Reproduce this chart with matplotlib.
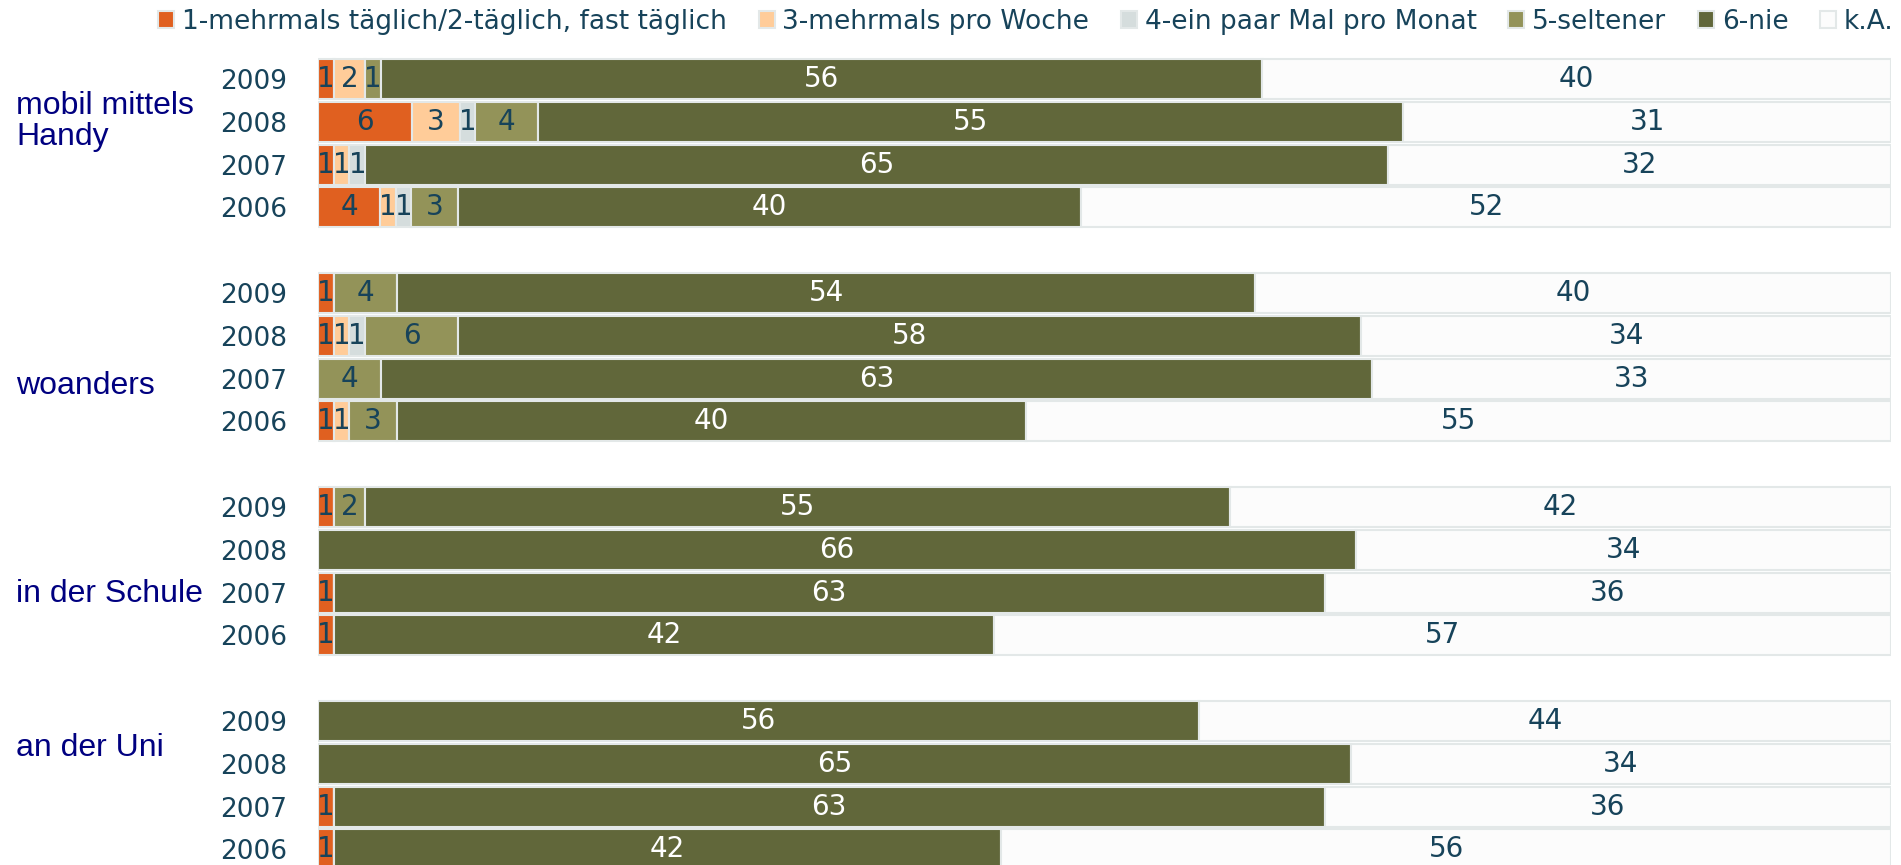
import numpy as np
import matplotlib.pyplot as plt

# categories / labels
cats = ['1-mehrmals täglich/2-täglich, fast täglich', '3-mehrmals pro Woche',
        '4-ein paar Mal pro Monat', '5-seltener', '6-nie', 'k.A.']
years = ['2009', '2008', '2007', '2006']
groups = ['mobil mittels\nHandy', 'woanders', 'in der Schule', 'an der Uni']

# values per category, order: group (mobil, woanders, Schule, Uni) x year (2009..2006)
taeglich = [1, 6, 1, 4,   1, 1, 0, 1,   1, 0, 1, 1,   0, 0, 1, 1]
woche    = [2, 3, 1, 1,   0, 1, 0, 1,   0, 0, 0, 0,   0, 0, 0, 0]
monat    = [0, 1, 1, 1,   0, 1, 0, 0,   0, 0, 0, 0,   0, 0, 0, 0]
seltener = [1, 4, 0, 3,   4, 6, 4, 3,   2, 0, 0, 0,   0, 0, 0, 0]
nie      = [56, 55, 65, 40,   54, 58, 63, 40,   55, 66, 63, 42,   56, 65, 63, 42]
ka       = [40, 31, 32, 52,   40, 34, 33, 55,   42, 34, 36, 57,   44, 34, 36, 56]

series = [taeglich, woche, monat, seltener, nie, ka]
colors = ['#E06020', '#FFCC99', '#D5DDDD', '#939359', '#61673A', '#FCFCFC']
teal = '#17435A'
txt_col = [teal, teal, teal, teal, 'white', teal]

plt.rcParams['font.family'] = ['DejaVu Sans']

fig = plt.figure(figsize=(19.01, 8.65), dpi=100)
W, H = 1901, 865
x0, x1 = 318, 1891
ytop = 52
row0, step = 79, 42.8
ax = fig.add_axes([x0 / W, 0, (x1 - x0) / W, (H - ytop) / H])

# row positions: 4 rows per group + one empty row between groups
pos = np.array([g * 5 + i for g in range(len(groups)) for i in range(len(years))])

# 100% stacked: each row scaled to its own total
data = np.array(series, dtype=float)
share = data / data.sum(axis=0) * 100

left = np.zeros(len(pos))
for k in range(len(series)):
    ax.barh(pos, share[k], left=left, height=0.93, color=colors[k],
            edgecolor='#E3E8E8', linewidth=1.5, label=cats[k])
    for p, l, w, v in zip(pos, left, share[k], data[k]):
        if v > 0:
            ax.text(l + w / 2, p, '%d' % v, ha='center', va='center',
                    fontsize=20, color=txt_col[k])
    left += share[k]

ax.set_xlim(0, 100)
ax.set_ylim((H - row0) / step, -(row0 - ytop) / step)
ax.set_yticks(pos)
ax.set_yticklabels(years * len(groups), fontsize=19, color=teal)
ax.tick_params(axis='y', length=0, pad=22)
ax.set_xticks([])
for s in ax.spines.values():
    s.set_visible(False)

# group labels on the far left
group_label_pos = [1.0, 7.17, 12.04, 15.64]
for g, name in enumerate(groups):
    fig.text(16 / W, 1 - (row0 + group_label_pos[g] * step) / H, name,
             fontsize=23, family='Liberation Sans', color='#000080',
             ha='left', va='center', linespacing=1.05)

leg = fig.legend(loc='center', bbox_to_anchor=(1026 / W, 1 - 22 / H), ncol=6,
                 frameon=False, fontsize=19, handlelength=0.6, handleheight=0.6,
                 handletextpad=0.3, columnspacing=1.2, borderaxespad=0)
for t in leg.get_texts():
    t.set_color(teal)

plt.savefig('out.png', dpi=100)
